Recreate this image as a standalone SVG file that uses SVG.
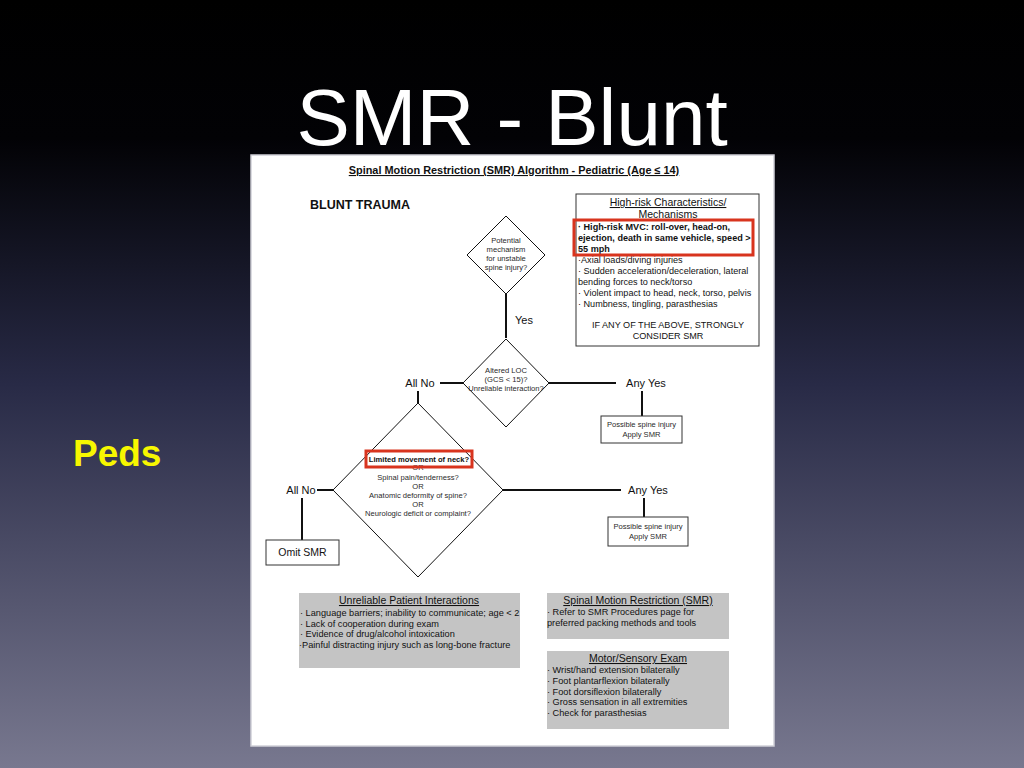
<svg xmlns="http://www.w3.org/2000/svg" width="1024" height="768" viewBox="0 0 1024 768">
<defs>
<linearGradient id="bg" x1="0" y1="0" x2="0" y2="1">
<stop offset="0" stop-color="#000000"/>
<stop offset="0.18" stop-color="#020205"/>
<stop offset="0.5" stop-color="#282a46"/>
<stop offset="1" stop-color="#78788f"/>
</linearGradient>
<style>
text{font-family:"Liberation Sans",Arial,sans-serif;fill:#111}
.dia{fill:#fff;stroke:#111;stroke-width:1}
.box{fill:#fff;stroke:#333;stroke-width:1}
.gbox{fill:#c4c4c4;stroke:none}
.conn{stroke:#111;stroke-width:2;fill:none}
.red{fill:none;stroke:#d8341e;stroke-width:3}
.dt{font-size:7.6px;fill:#2a2a2a;text-anchor:middle}
.lbl{font-size:11px;text-anchor:middle}
.hr{font-size:9.1px}
.gb{font-size:9.2px}
.ul{text-decoration:underline;text-anchor:middle}
</style>
</defs>
<rect x="0" y="0" width="1024" height="768" fill="url(#bg)"/>
<text x="512" y="145" text-anchor="middle" style="font-size:80px;fill:#fff">SMR - Blunt</text>
<text x="73" y="466" style="font-size:37px;font-weight:bold;fill:#f7f700">Peds</text>
<rect x="251" y="155" width="523" height="591" fill="#fff" stroke="#d0d0d8" stroke-width="1.5"/>

<text x="514" y="174" style="font-size:10.9px;font-weight:bold;text-decoration:underline;text-anchor:middle">Spinal Motion Restriction (SMR) Algorithm - Pediatric (Age ≤ 14)</text>
<text x="310" y="209" style="font-size:12.5px;font-weight:bold">BLUNT TRAUMA</text>

<g id="connectors">
<line class="conn" x1="506" y1="294" x2="506" y2="338"/>
<line class="conn" x1="440" y1="383" x2="463" y2="383"/>
<line class="conn" x1="549" y1="383" x2="616" y2="383"/>
<line class="conn" x1="642" y1="391" x2="642" y2="416"/>
<line class="conn" x1="418" y1="391" x2="418" y2="403"/>
<line class="conn" x1="317" y1="490" x2="333" y2="490"/>
<line class="conn" x1="302" y1="498" x2="302" y2="540"/>
<line class="conn" x1="503" y1="490" x2="621" y2="490"/>
<line class="conn" x1="644" y1="498" x2="644" y2="517"/>
<text x="524" y="324" class="lbl">Yes</text>
<text x="420" y="387" class="lbl">All No</text>
<text x="646" y="387" class="lbl">Any Yes</text>
<text x="301" y="494" class="lbl">All No</text>
<text x="648" y="494" class="lbl">Any Yes</text>
</g>

<g id="n-mechanism">
<polygon class="dia" points="506,216 545,255 506,294 467,255"/>
<text class="dt" x="506" y="243">Potential</text>
<text class="dt" x="506" y="252">mechanism</text>
<text class="dt" x="506" y="261">for unstable</text>
<text class="dt" x="506" y="270">spine injury?</text>
</g>

<g id="n-loc">
<polygon class="dia" points="506,339 549,383 506,427 463,383"/>
<text class="dt" x="506" y="373">Altered LOC</text>
<text class="dt" x="506" y="382">(GCS &lt; 15)?</text>
<text class="dt" x="506" y="391">Unreliable interaction?</text>
</g>

<g id="n-apply1">
<rect class="box" x="601" y="416" width="81" height="27"/>
<text class="dt" x="641.5" y="427">Possible spine injury</text>
<text class="dt" x="641.5" y="437">Apply SMR</text>
</g>

<g id="n-exam">
<polygon class="dia" points="418,403 503,490 418,577 333,490"/>
<text class="dt" x="418" y="470">OR</text>
<text class="dt" x="418" y="480">Spinal pain/tenderness?</text>
<text class="dt" x="418" y="489">OR</text>
<text class="dt" x="418" y="498">Anatomic deformity of spine?</text>
<text class="dt" x="418" y="507">OR</text>
<text class="dt" x="418" y="516">Neurologic deficit or complaint?</text>
<rect x="366" y="451" width="106" height="16" fill="#fff" class="red"/>
<text class="dt" x="419" y="462" style="font-weight:bold;fill:#111">Limited movement of neck?</text>
</g>

<g id="n-omit">
<rect class="box" x="266" y="540" width="73" height="25"/>
<text x="302.5" y="556" style="font-size:10.5px;text-anchor:middle">Omit SMR</text>
</g>

<g id="n-apply2">
<rect class="box" x="608" y="517" width="80" height="29"/>
<text class="dt" x="648" y="529">Possible spine injury</text>
<text class="dt" x="648" y="539">Apply SMR</text>
</g>

<g id="n-highrisk">
<rect class="box" x="576" y="194" width="183" height="152"/>
<text class="hr ul" x="668" y="206" style="font-size:10.5px">High-risk Characteristics/</text>
<text class="hr ul" x="668" y="218" style="font-size:10.5px">Mechanisms</text>
<text class="hr" x="578" y="230" style="font-weight:bold">· High-risk MVC: roll-over, head-on,</text>
<text class="hr" x="578" y="241" style="font-weight:bold">ejection, death in same vehicle, speed &gt;</text>
<text class="hr" x="578" y="252" style="font-weight:bold">55 mph</text>
<text class="hr" x="578" y="263">·Axial loads/diving injuries</text>
<text class="hr" x="578" y="274">· Sudden acceleration/deceleration, lateral</text>
<text class="hr" x="578" y="285">bending forces to neck/torso</text>
<text class="hr" x="578" y="296">· Violent impact to head, neck, torso, pelvis</text>
<text class="hr" x="578" y="307">· Numbness, tingling, parasthesias</text>
<text class="hr" x="668" y="328" style="text-anchor:middle">IF ANY OF THE ABOVE, STRONGLY</text>
<text class="hr" x="668" y="339" style="text-anchor:middle">CONSIDER SMR</text>
<rect class="red" x="574" y="220" width="179" height="35"/>
</g>

<g id="n-unreliable">
<rect class="gbox" x="299" y="593" width="221" height="75"/>
<text class="gb ul" x="409" y="604" style="font-size:10.5px">Unreliable Patient Interactions</text>
<text class="gb" x="300" y="616">· Language barriers; inability to communicate; age &lt; 2</text>
<text class="gb" x="300" y="627">· Lack of cooperation during exam</text>
<text class="gb" x="300" y="637">· Evidence of drug/alcohol intoxication</text>
<text class="gb" x="299" y="648">·Painful distracting injury such as long-bone fracture</text>
</g>

<g id="n-smr">
<rect class="gbox" x="547" y="593" width="182" height="46"/>
<text class="gb ul" x="638" y="604" style="font-size:10.5px">Spinal Motion Restriction (SMR)</text>
<text class="gb" x="547" y="615">· Refer to SMR Procedures page for</text>
<text class="gb" x="547" y="626">preferred packing methods and tools</text>
</g>

<g id="n-motor">
<rect class="gbox" x="547" y="651" width="182" height="78"/>
<text class="gb ul" x="638" y="662" style="font-size:10.5px">Motor/Sensory Exam</text>
<text class="gb" x="547" y="673">· Wrist/hand extension bilaterally</text>
<text class="gb" x="547" y="684">· Foot plantarflexion bilaterally</text>
<text class="gb" x="547" y="695">· Foot dorsiflexion bilaterally</text>
<text class="gb" x="547" y="705">· Gross sensation in all extremities</text>
<text class="gb" x="547" y="716">· Check for parasthesias</text>
</g>
</svg>
